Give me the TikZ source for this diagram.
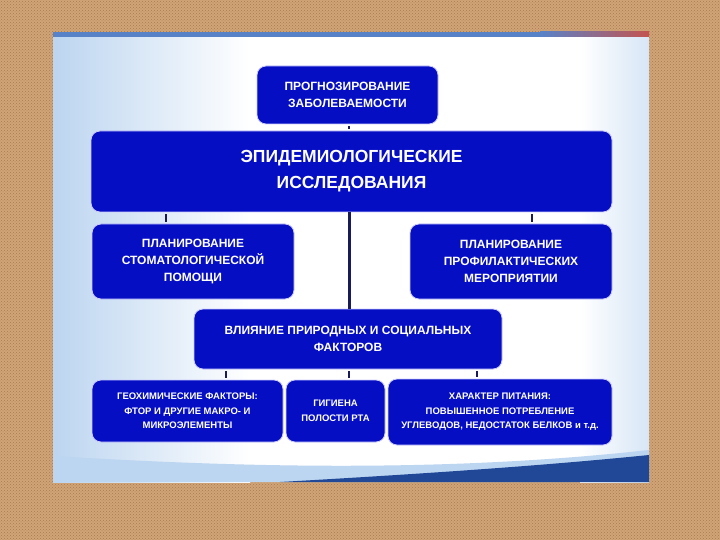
\documentclass[tikz,border=0pt]{standalone}
\usepackage{fontspec}
\setmainfont{Liberation Sans}
\usepackage{tikz}
\usetikzlibrary{positioning, calc, patterns}
\usepackage{xcolor}
\definecolor{boxblue}{RGB}{6,14,196}
\definecolor{linknavy}{RGB}{24,26,90}
\definecolor{cork}{RGB}{208,164,118}
\definecolor{corkdark}{RGB}{170,122,80}
\definecolor{skyedge}{RGB}{188,213,240}
\definecolor{barblue}{RGB}{88,130,200}
\definecolor{barred}{RGB}{196,84,80}
\definecolor{swoosh}{RGB}{32,72,150}

\tikzset{
  blockbox/.style={rectangle, rounded corners=9pt, fill=boxblue, draw=blue!20, line width=0.8pt,
    text=white, align=center, inner sep=0pt, font=\fontsize{12}{17}\selectfont\bfseries},
  stub/.style={linknavy, line width=2pt, shorten <=2pt, shorten >=2pt},
  trunk/.style={linknavy, line width=3pt},
}

\begin{document}
\begin{tikzpicture}[x=1pt, y=-1pt]
  \useasboundingbox (0,0) rectangle (720,540);
  % cork board and slide
  \fill[cork] (0,0) rectangle (720,540);
  \fill[pattern=crosshatch dots, pattern color=corkdark] (0,0) rectangle (720,540);
  \fill[white] (53,32) rectangle (649,482);
  \shade[top color=white, bottom color=skyedge, middle color=skyedge!50] (53,37) rectangle (54,482);
  \shade[left color=skyedge, right color=white] (53,37) rectangle (250,482);
  \shade[left color=white, right color=skyedge!60] (580,37) rectangle (649,482);
  \fill[skyedge] (53,456) .. controls (250,468) and (450,472) .. (649,450) -- (649,482) -- (53,482) -- cycle;
  \fill[swoosh] (280,482) .. controls (420,474) and (540,466) .. (649,455) -- (649,482) -- cycle;
  \fill[barblue] (53,32) rectangle (540,37);
  \shade[left color=barblue, right color=barred] (540,32) rectangle (649,37);

  % boxes
  \node[blockbox, minimum width=181pt, minimum height=58pt] (prog) at (347.5,95) {ПРОГНОЗИРОВАНИЕ\\ЗАБОЛЕВАЕМОСТИ};
  \node[blockbox, minimum width=521pt, minimum height=81pt, font=\fontsize{17.5}{26}\selectfont\bfseries] (epid) at (351.5,171.5) {ЭПИДЕМИОЛОГИЧЕСКИЕ\\ИССЛЕДОВАНИЯ};
  \node[blockbox, minimum width=202pt, minimum height=75pt] (plan) at (193,261.5) {ПЛАНИРОВАНИЕ\\СТОМАТОЛОГИЧЕСКОЙ\\ПОМОЩИ};
  \node[blockbox, minimum width=202pt, minimum height=75pt] (prof) at (511,261.5) {ПЛАНИРОВАНИЕ\\ПРОФИЛАКТИЧЕСКИХ\\МЕРОПРИЯТИИ};
  \node[blockbox, minimum width=308pt, minimum height=60pt] (infl) at (348,339) {ВЛИЯНИЕ ПРИРОДНЫХ И СОЦИАЛЬНЫХ\\ФАКТОРОВ};
  \node[blockbox, minimum width=191pt, minimum height=62pt, font=\fontsize{9.5}{14.5}\selectfont\bfseries] (geo) at (187.5,411) {ГЕОХИМИЧЕСКИЕ ФАКТОРЫ:\\ФТОР И ДРУГИЕ МАКРО- И\\МИКРОЭЛЕМЕНТЫ};
  \node[blockbox, minimum width=99pt, minimum height=62pt, font=\fontsize{9.5}{14.5}\selectfont\bfseries] (hyg) at (335.5,411) {ГИГИЕНА\\ПОЛОСТИ РТА};
  \node[blockbox, minimum width=224pt, minimum height=66pt, font=\fontsize{9.5}{14.5}\selectfont\bfseries] (diet) at (500,412) {ХАРАКТЕР ПИТАНИЯ:\\ПОВЫШЕННОЕ ПОТРЕБЛЕНИЕ\\УГЛЕВОДОВ, НЕДОСТАТОК БЕЛКОВ и т.д.};

  % links
  \draw[stub, line width=2pt, shorten <=1.5pt, shorten >=1.5pt] ([xshift=1.5pt]prog.south) -- ([xshift=1.5pt]prog.south |- epid.north);
  \draw[stub] ([xshift=-27pt]plan.north) -- ([xshift=-27pt]plan.north |- epid.south);
  \draw[stub] ([xshift=21pt]prof.north) -- ([xshift=21pt]prof.north |- epid.south);
  \draw[trunk] ([xshift=1pt]infl.north) -- ([xshift=1pt]infl.north |- epid.south);
  \draw[stub] ([xshift=38.5pt]geo.north) -- ([xshift=38.5pt]geo.north |- infl.south);
  \draw[stub] ([xshift=13.5pt]hyg.north) -- ([xshift=13.5pt]hyg.north |- infl.south);
  \draw[stub] ([xshift=-23pt]diet.north) -- ([xshift=-23pt]diet.north |- infl.south);
\end{tikzpicture}
\end{document}
